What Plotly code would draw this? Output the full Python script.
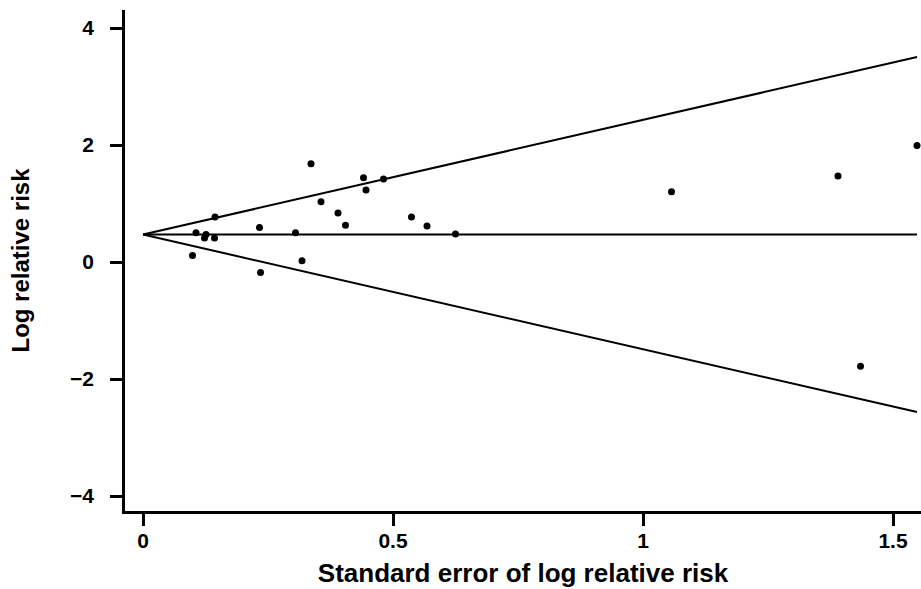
import plotly.graph_objects as go

# Study-level data
se = [0.099, 0.106, 0.123, 0.126, 0.143, 0.144, 0.233, 0.235, 0.305, 0.318,
      0.336, 0.356, 0.390, 0.405, 0.441, 0.446, 0.481, 0.537, 0.568, 0.625,
      1.057, 1.390, 1.435, 1.548]
log_rr = [0.11, 0.50, 0.41, 0.47, 0.41, 0.77, 0.59, -0.18, 0.50, 0.02,
          1.68, 1.03, 0.84, 0.63, 1.44, 1.23, 1.42, 0.77, 0.615, 0.48,
          1.20, 1.47, -1.78, 1.99]

pooled = 0.47
z = 1.96
se_line = [0.0, 1.548]

x_ticks = [0, 0.5, 1, 1.5]
x_ticklabels = ["0", "0.5", "1", "1.5"]
y_ticks = [-4, -2, 0, 2, 4]

FONT = "Liberation Sans, Arial, Helvetica, sans-serif"

fig = go.Figure()

line_style = dict(color="black", width=2)
fig.add_trace(go.Scatter(x=se_line, y=[pooled + z * s for s in se_line],
                         mode="lines", line=line_style, hoverinfo="skip"))
fig.add_trace(go.Scatter(x=se_line, y=[pooled - z * s for s in se_line],
                         mode="lines", line=line_style, hoverinfo="skip"))
fig.add_trace(go.Scatter(x=se_line, y=[pooled for s in se_line],
                         mode="lines", line=line_style, hoverinfo="skip"))
fig.add_trace(go.Scatter(x=se, y=log_rr, mode="markers",
                         marker=dict(color="black", size=7)))

fig.update_layout(
    width=921, height=589,
    margin=dict(l=125, r=0, t=10, b=78),
    paper_bgcolor="white", plot_bgcolor="white",
    showlegend=False,
    font=dict(family=FONT, color="black"),
)

fig.update_xaxes(
    range=[-0.036, 1.556],
    tickvals=x_ticks, ticktext=x_ticklabels,
    showgrid=False, zeroline=False,
    showline=True, linecolor="black", linewidth=2.5,
    ticks="outside", ticklen=12, tickwidth=2.5, tickcolor="black",
    tickfont=dict(size=21, family=FONT, weight="bold"),
    ticklabelstandoff=-3,
    title=dict(text="Standard error of log relative risk",
               font=dict(size=26, family=FONT, weight="bold"), standoff=13),
)
fig.update_yaxes(
    range=[-4.256, 4.308],
    tickvals=y_ticks,
    showgrid=False, zeroline=False,
    showline=True, linecolor="black", linewidth=2.5,
    ticks="outside", ticklen=12, tickwidth=2.5, tickcolor="black",
    tickfont=dict(size=21, family=FONT, weight="bold"),
    ticklabelstandoff=12,
    title=dict(text="Log relative risk",
               font=dict(size=24, family=FONT, weight="bold"), standoff=34),
)

# remove the default page margin so the 921x589 figure fills the window exactly
fig.write_html("out.html",
               config={"displayModeBar": False},
               post_script="document.body.style.margin='0';"
                           "document.body.style.overflow='hidden';")
